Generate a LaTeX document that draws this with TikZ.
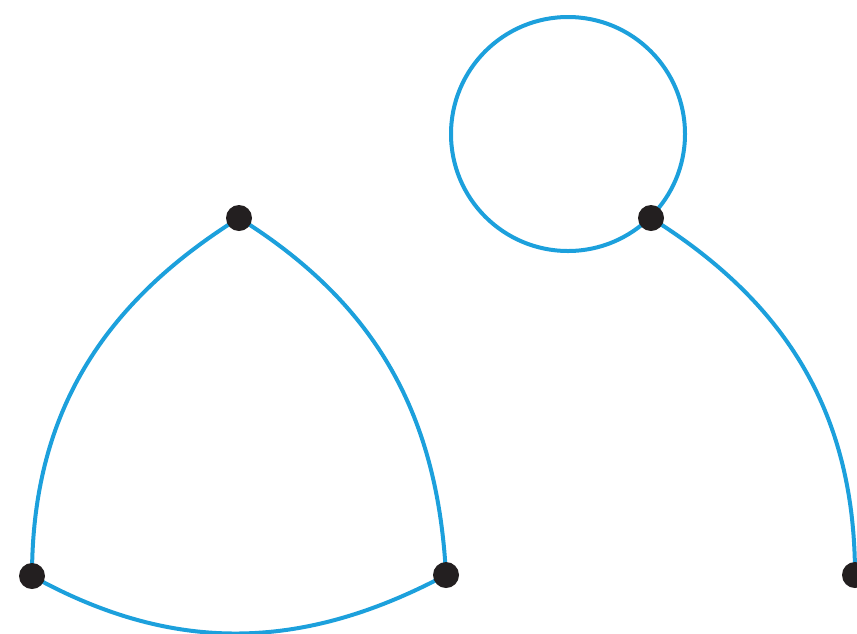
\documentclass[tikz,border=0pt]{standalone}
\definecolor{edgeblue}{RGB}{28,160,220}
\definecolor{dotblack}{RGB}{35,31,32}
\begin{document}
\begin{tikzpicture}[x=1pt,y=-1pt,
  vertex/.style={circle,fill=dotblack,inner sep=0pt,minimum size=26pt},
  edge/.style={draw=edgeblue,line width=4pt}]
\useasboundingbox (0,0) rectangle (857,633);
\clip (0,0) rectangle (857,633);
% vertex positions
\coordinate (a) at (239,218);
\coordinate (b) at (32,576);
\coordinate (c) at (446,575);
\coordinate (o) at (568,134);
\coordinate (v) at (651,218);
\coordinate (w) at (855,575);
% edges
\path[edge] (a) to[out=212,in=90] (b);
\path[edge] (a) to[out=328,in=93] (c);
\path[edge] (b) to[out=-29,in=208] (c);
\path[edge] (o) circle[radius=117];
\path[edge] (v) to[out=328,in=90] (w);
% vertices on top
\node[vertex] (na) at (a) {};
\node[vertex] (nb) at (b) {};
\node[vertex] (nc) at (c) {};
\node[vertex] (nv) at (v) {};
\node[vertex] (nw) at (w) {};
\end{tikzpicture}
\end{document}
